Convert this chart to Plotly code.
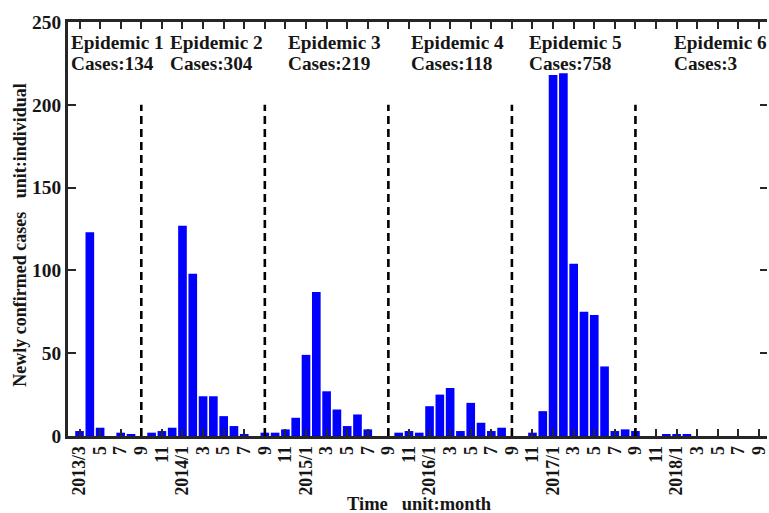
import plotly.graph_objects as go

# Monthly newly confirmed cases, 2013/3 through 2018/9
months = [
    "2013/3", "2013/4", "2013/5", "2013/6", "2013/7", "2013/8", "2013/9", "2013/10", "2013/11", "2013/12",
    "2014/1", "2014/2", "2014/3", "2014/4", "2014/5", "2014/6", "2014/7", "2014/8", "2014/9", "2014/10", "2014/11", "2014/12",
    "2015/1", "2015/2", "2015/3", "2015/4", "2015/5", "2015/6", "2015/7", "2015/8", "2015/9", "2015/10", "2015/11", "2015/12",
    "2016/1", "2016/2", "2016/3", "2016/4", "2016/5", "2016/6", "2016/7", "2016/8", "2016/9", "2016/10", "2016/11", "2016/12",
    "2017/1", "2017/2", "2017/3", "2017/4", "2017/5", "2017/6", "2017/7", "2017/8", "2017/9", "2017/10", "2017/11", "2017/12",
    "2018/1", "2018/2", "2018/3", "2018/4", "2018/5", "2018/6", "2018/7", "2018/8", "2018/9",
]
cases = [
    3, 123, 5, 0, 2, 1, 0, 2, 3, 5,
    127, 98, 24, 24, 12, 6, 1, 0, 2, 2, 4, 11,
    49, 87, 27, 16, 6, 13, 4, 0, 0, 2, 3, 2,
    18, 25, 29, 3, 20, 8, 3, 5, 0, 0, 2, 15,
    218, 219, 104, 75, 73, 42, 3, 4, 3, 0, 0, 1,
    1, 1, 0, 0, 0, 0, 0, 0, 0,
]

# Axis tick labels (every second month)
tick_months = [
    "2013/3", "2013/5", "2013/7", "2013/9", "2013/11",
    "2014/1", "2014/3", "2014/5", "2014/7", "2014/9", "2014/11",
    "2015/1", "2015/3", "2015/5", "2015/7", "2015/9", "2015/11",
    "2016/1", "2016/3", "2016/5", "2016/7", "2016/9", "2016/11",
    "2017/1", "2017/3", "2017/5", "2017/7", "2017/9", "2017/11",
    "2018/1", "2018/3", "2018/5", "2018/7", "2018/9",
]
tick_text = [
    "2013/3", "5", "7", "9", "11",
    "2014/1", "3", "5", "7", "9", "11",
    "2015/1", "3", "5", "7", "9", "11",
    "2016/1", "3", "5", "7", "9", "11",
    "2017/1", "3", "5", "7", "9", "11",
    "2018/1", "3", "5", "7", "9",
]
y_ticks = [0, 50, 100, 150, 200, 250]

# Epidemic boundaries (dashed separators) and summary labels
boundary_months = ["2013/9", "2014/9", "2015/9", "2016/9", "2017/9"]
boundary_height = 200
epidemic_names = ["Epidemic 1", "Epidemic 2", "Epidemic 3", "Epidemic 4", "Epidemic 5", "Epidemic 6"]
epidemic_cases = [134, 304, 219, 118, 758, 3]
label_pos = [-0.78, 8.92, 20.35, 32.27, 43.8, 57.86]
name_y = 237.4
count_y = 224.8

idx = {m: i for i, m in enumerate(months)}
x = list(range(len(months)))

FONT = "Liberation Serif, Times New Roman, serif"
INK = "#262626"
TXT = "#161616"


def bold(size):
    return dict(family=FONT, size=size, color=TXT, weight="bold")


fig = go.Figure()
fig.add_trace(go.Bar(
    x=x, y=cases,
    marker=dict(color="#0000ff", line=dict(width=0)),
    showlegend=False,
    yaxis="y",
))
# invisible trace that carries the right-hand tick axis
fig.add_trace(go.Scatter(x=[x[0]], y=[0], yaxis="y2", mode="markers",
                         marker=dict(opacity=0), showlegend=False, hoverinfo="skip"))

for m in boundary_months:
    fig.add_shape(type="line", xref="x", yref="y",
                  x0=idx[m], x1=idx[m], y0=0, y1=boundary_height,
                  line=dict(color="black", width=2.6, dash="8px,5px"), layer="above")

for name, n, px in zip(epidemic_names, epidemic_cases, label_pos):
    for txt, yy in ((name, name_y), (f"Cases:{n}", count_y)):
        fig.add_annotation(x=px, y=yy, xref="x", yref="y", xshift=-3,
                           text=txt, showarrow=False,
                           xanchor="left", yanchor="middle", align="left",
                           font=bold(19.3))

# axis titles
fig.add_annotation(xref="paper", yref="paper", x=0.503, y=-0.164,
                   text="Time\u00a0\u00a0\u00a0unit:month", showarrow=False,
                   xanchor="center", yanchor="middle", font=bold(18.5))
fig.add_annotation(xref="paper", yref="paper", x=-0.069, y=0.4855,
                   text="Newly confirmed cases\u00a0\u00a0\u00a0unit:individual", showarrow=False,
                   textangle=-90, xanchor="center", yanchor="middle", font=bold(18))

fig.update_layout(
    width=769, height=513,
    margin=dict(l=68, r=0, t=22, b=77),
    paper_bgcolor="white", plot_bgcolor="white",
    bargap=0.16,
    font=bold(18),
    xaxis=dict(
        range=[-1.12, 66.78],
        tickmode="array",
        tickvals=[idx[m] for m in tick_months],
        ticktext=tick_text,
        tickangle=-90,
        ticks="inside", ticklen=7, tickwidth=2, tickcolor=INK,
        showline=True, linewidth=3, linecolor=INK, mirror="ticks",
        showgrid=False, zeroline=False,
        ticklabeloverflow="allow",
        tickfont=bold(17.8),
    ),
    yaxis=dict(
        range=[0, 250],
        tickvals=y_ticks,
        ticks="inside", ticklen=8, tickwidth=2, tickcolor=INK,
        showline=True, linewidth=3, linecolor=INK,
        showgrid=False, zeroline=False,
        tickfont=bold(19.4),
    ),
    yaxis2=dict(
        range=[0, 250], overlaying="y", side="right",
        tickvals=y_ticks,
        ticks="inside", ticklen=7, tickwidth=2, tickcolor=INK,
        showticklabels=False, showline=False, showgrid=False, zeroline=False,
    ),
)

fig.write_html("out.html")
